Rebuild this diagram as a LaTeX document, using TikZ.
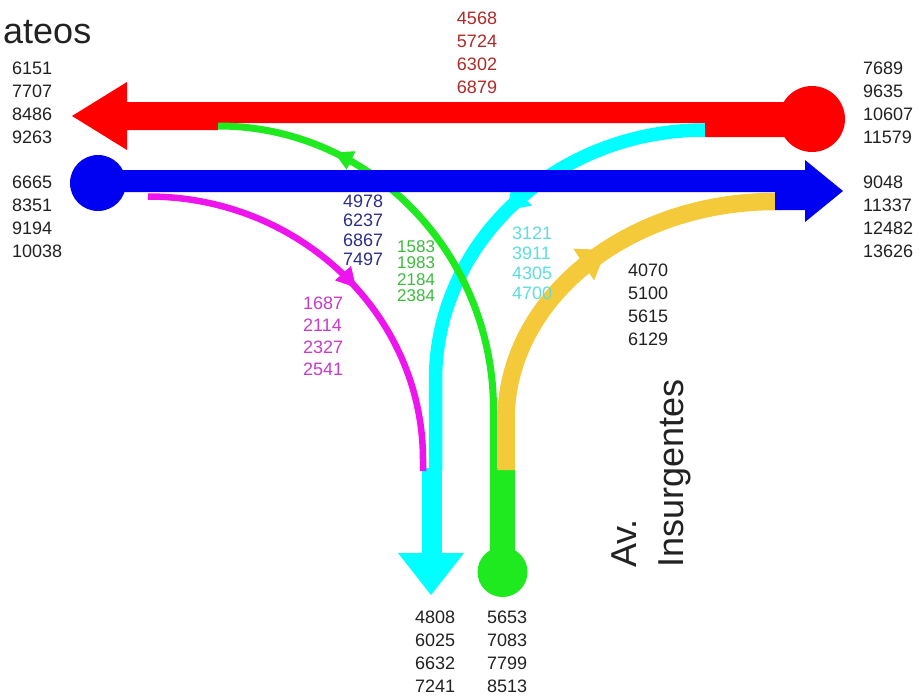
\documentclass[tikz,border=0pt]{standalone}
\usepackage{fontspec}
\setmainfont{Liberation Sans}
\usetikzlibrary{arrows.meta,decorations.markings}
\definecolor{flred}{HTML}{FF0000}
\definecolor{flblue}{HTML}{0000F2}
\definecolor{flgreen}{HTML}{1FEA1F}
\definecolor{flcyan}{HTML}{00FFFF}
\definecolor{flmagenta}{HTML}{EE14EE}
\definecolor{flyellow}{HTML}{F4CA3A}
\definecolor{txred}{HTML}{B02A2A}
\definecolor{txnavy}{HTML}{2E2E8A}
\definecolor{txgreen}{HTML}{3DBB3D}
\definecolor{txcyan}{HTML}{5FDDDD}
\definecolor{txmagenta}{HTML}{C83CC8}
\definecolor{txblack}{HTML}{222222}

\begin{document}
\begin{tikzpicture}[x=1pt,y=-1pt,
  every node/.style={inner sep=0pt,align=left,anchor=north west,text=txblack},
  counts/.style={font=\fontsize{18}{#1}\selectfont},
  counts/.default=23,
  street/.style={font=\fontsize{36}{47}\selectfont},
  flow/.style={line cap=butt},
  midtip/.style 2 args={postaction={decorate,decoration={markings,mark=at position #1 with {\arrow{#2}}}}}
]
\path[fill=white] (0,0) rectangle (920,696);
\coordinate (cN) at (705,130);
\coordinate (cS) at (435.5,470);
\coordinate (mW) at (148,196.5);
\coordinate (mS) at (423,471);
\coordinate (gS) at (493.5,470);
\coordinate (yS) at (506,470);

\fill[flred] (72,116) -- (127,82) -- (127,102) -- (812,102) -- (812,137) -- (705,137) -- (705,123)
  -- (218,123) -- (218,130) -- (127,130) -- (127,150) -- cycle;
\fill[flred] (812,119) circle[radius=33];

\draw[flow,flcyan,line width=13.5pt,midtip={0.44}{Triangle[length=21pt,width=27pt]}]
  (cN) arc[start angle=270,end angle=180,x radius=269.5,y radius=250] -- (cS);
\fill[flcyan] (422,468) rectangle (442,553);
\fill[flcyan] (398,553) -- (464,553) -- (431,595) -- cycle;

\draw[flow,flmagenta,line width=6.5pt,midtip={0.54}{Triangle[length=20pt,width=20pt]}]
  (mW) arc[start angle=-90,end angle=0,x radius=275,y radius=263.5] -- (mS);

\draw[flow,flgreen,line width=7pt,midtip={0.76}{Triangle[length=19pt,width=19pt]}]
  (gS) -- ++(0,-60) arc[start angle=0,end angle=-90,x radius=275.5,y radius=284];
\fill[flgreen] (490,468) rectangle (515,572);
\fill[flgreen] (502.5,572) circle[radius=25];

\draw[flow,flyellow,line width=17.5pt,midtip={0.59}{Triangle[length=27pt,width=36pt]}]
  (yS) -- ++(0,-50) arc[start angle=180,end angle=270,x radius=269,y radius=218.5];

\fill[flblue] (98,170) -- (805,170) -- (805,160) -- (843,191) -- (805,222) -- (805,210)
  -- (775,210) -- (775,192) -- (98,192) -- cycle;
\fill[flblue] (98,183) circle[radius=28];

\node[street,anchor=base west] (streetW) at (3,43) {ateos};
\node[street,rotate=90] (streetS) at (612,568) {Av.\\Insurgentes};

\node[counts] (redW) at (12,61.5) {6151\\7707\\8486\\9263};
\node[counts] (blueW) at (12,175.5) {6665\\8351\\9194\\10038};
\node[counts,text=txred,align=center,anchor=north] (redThru) at (477,11.5) {4568\\5724\\6302\\6879};
\node[counts] (redE) at (863,61.5) {7689\\9635\\10607\\11579};
\node[counts] (blueE) at (863,175.5) {9048\\11337\\12482\\13626};
\node[counts=19.5,text=txnavy] (blueThru) at (343,194.5) {4978\\6237\\6867\\7497};
\node[counts=16.5,text=txgreen,font=\fontsize{17}{16.5}\selectfont] (greenL) at (397,240) {1583\\1983\\2184\\2384};
\node[counts=20,text=txcyan] (cyanL) at (512,226.5) {3121\\3911\\4305\\4700};
\node[counts] (yellowL) at (628,263.5) {4070\\5100\\5615\\6129};
\node[counts=22,text=txmagenta] (magentaL) at (303,296.5) {1687\\2114\\2327\\2541};
\node[counts] (cyanS) at (415,610.5) {4808\\6025\\6632\\7241};
\node[counts] (greenS) at (487,610.5) {5653\\7083\\7799\\8513};
\end{tikzpicture}
\end{document}
